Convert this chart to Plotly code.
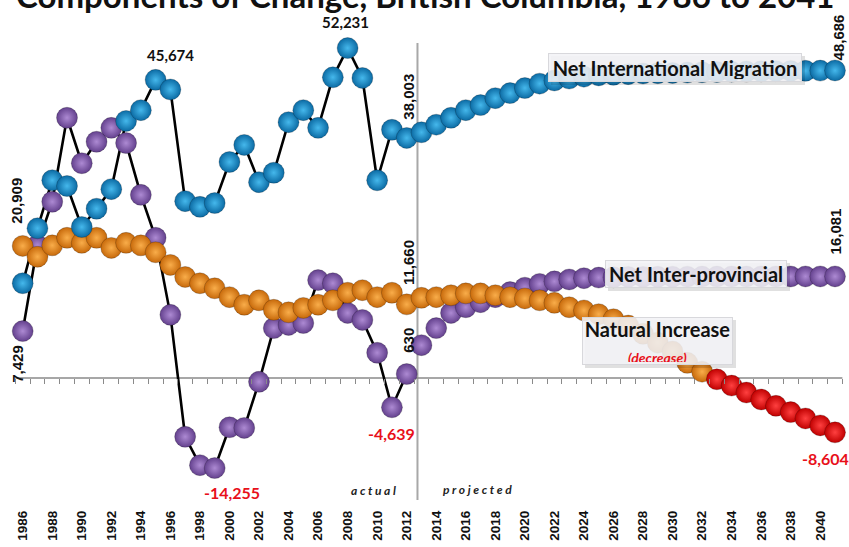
import plotly.graph_objects as go

# ---- data -------------------------------------------------------------
years = list(range(1986, 2042))
last_actual_year = 2012

net_international = [
    15000, 23700, 31300, 30400, 23900, 26800, 29900, 40700, 42400, 47200,
    45674, 28000, 27100, 27700, 34200, 36900, 31000, 32500, 40500, 42400,
    39600, 47600, 52231, 47500, 31300, 39300, 38003,
    38900, 40100, 41200, 42400, 43200, 44300, 45100, 45900, 46600, 47100,
    47400, 47700, 47900, 48000, 48100, 48200, 48250, 48300, 48350, 48400,
    48450, 48500, 48520, 48550, 48580, 48610, 48640, 48660, 48686,
]
net_interprovincial = [
    7429, 21000, 27900, 41200, 34000, 37400, 39600, 37200, 29000, 22200,
    10000, -9300, -13800, -14255, -7800, -7900, -600, 7900, 8400, 8700,
    15500, 15000, 10300, 9200, 4000, -4639, 630,
    5200, 7900, 10300, 11200, 12000, 12800, 13600, 14300, 14900, 15300,
    15600, 15800, 15900, 15950, 16000, 16000, 16020, 16030, 16040, 16050,
    16050, 16060, 16060, 16070, 16070, 16075, 16078, 16080, 16081,
]
natural_increase = [
    20909, 19200, 21000, 22200, 21400, 22200, 20600, 21400, 21000, 19900,
    17900, 16000, 15000, 14200, 12800, 11600, 12300, 10800, 10400, 11100,
    11600, 12300, 13500, 13900, 12800, 13500, 11660,
    12700, 12800, 13100, 13400, 13400, 13100, 12800, 12600, 12300, 11900,
    11200, 10700, 10100, 9300, 8300, 7000, 5600, 4200, 2400, 1000,
    -200, -1200, -2300, -3400, -4400, -5400, -6400, -7500, -8604,
]
tick_years = list(range(1986, 2041, 2))
tick_labels = [f"<b>{y}</b>" for y in tick_years]

# ---- geometry ---------------------------------------------------------
W, H = 849, 547
MB = 40                       # bottom margin for the year labels
PH = H - MB                   # plot-area height in px
X_RANGE = [1984.463, 2041.948]
Y_RANGE = [-20420, 59840]


def py(px_from_top):
    """Paper y for a pixel row measured from the top of the page."""
    return 1 - px_from_top / PH


def px(px_from_left):
    return px_from_left / W


n_act = years.index(last_actual_year) + 1
act_years = years[:n_act]

BLUE, BLUE_HI = "#0b6aa3", "#45b8ec"
PURPLE, PURPLE_HI = "#63408d", "#ad8ad3"
ORANGE, ORANGE_HI = "#c7690a", "#f9ad4a"
RED, RED_HI = "#bf0000", "#ff4040"

fig = go.Figure()

# black connecting lines for the recorded years
for series in (net_interprovincial, net_international, natural_increase):
    fig.add_trace(go.Scatter(
        x=act_years, y=series[:n_act], mode="lines",
        line=dict(color="black", width=2.6), hoverinfo="skip", showlegend=False))


def balls(series, col, hi, name, neg=None):
    if neg is None:
        colors, his = col, hi
    else:
        colors = [col if v >= 0 else neg[0] for v in series]
        his = [hi if v >= 0 else neg[1] for v in series]
    fig.add_trace(go.Scatter(
        x=years, y=series, mode="markers", name=name, showlegend=False,
        marker=dict(size=21, color=colors,
                    gradient=dict(type="radial", color=his),
                    line=dict(width=0.6, color="rgba(0,0,0,0.35)"))))


balls(net_interprovincial, PURPLE, PURPLE_HI, "Net Inter-provincial")
balls(natural_increase, ORANGE, ORANGE_HI, "Natural Increase", neg=(RED, RED_HI))
balls(net_international, BLUE, BLUE_HI, "Net International Migration")

# helper trace so the tick-only axis on the zero line is drawn
fig.add_trace(go.Scatter(x=[None], y=[None], xaxis="x2", showlegend=False))

# ---- annotations ------------------------------------------------------
ann = []
NUM_FONT = dict(family="Lato, Carlito, sans-serif", size=15, color="#111")
ROT_FONT = dict(family="Liberation Sans, Arial, sans-serif", size=15, color="#111")
RED_FONT = dict(family="Lato, Carlito, sans-serif", size=16, color="#e8101a")


def label(series, year, dx, dy, font, angle=0):
    v = series[years.index(year)]
    ann.append(dict(x=year, y=v, xref="x", yref="y", text=f"<b>{v:,}</b>",
                    showarrow=False, xshift=dx, yshift=dy, textangle=angle,
                    xanchor="center", yanchor="middle", font=font))


label(net_international, 1996, 0, 34, NUM_FONT)
label(net_international, 2008, -2, 26, NUM_FONT)
label(net_international, 2012, 2, 41, ROT_FONT, -90)
label(net_international, 2041, 3, 33, ROT_FONT, -90)
label(natural_increase, 1986, -6, 45, ROT_FONT, -90)
label(net_interprovincial, 1986, -6, -33, ROT_FONT, -90)
label(natural_increase, 2012, 2, 42, ROT_FONT, -90)
label(net_interprovincial, 2012, 1, 34, ROT_FONT, -90)
label(net_interprovincial, 2011, 0, -26, RED_FONT)
label(net_interprovincial, 1999, 17, -24, RED_FONT)
label(natural_increase, 2041, -10, -26, RED_FONT)
label(net_interprovincial, 2041, 0, 45, ROT_FONT, -90)

# title (runs off the top edge of the page)
ann.append(dict(x=0.5, y=1, xref="paper", yref="paper", xanchor="center",
                yanchor="middle", yshift=5, showarrow=False,
                text="<b>Components of Change, British Columbia, 1986 to 2041</b>",
                font=dict(family="Lato, Carlito, sans-serif", size=33, color="#111")))

# actual / projected tags
TAG_FONT = dict(family="Lato, sans-serif", size=12, color="#222")
ann.append(dict(x=px(373), y=py(490), xref="paper", yref="paper", showarrow=False,
                xanchor="center", yanchor="middle",
                text="<b><i>a c t u a l</i></b>", font=TAG_FONT))
ann.append(dict(x=px(477), y=py(489), xref="paper", yref="paper", showarrow=False,
                xanchor="center", yanchor="middle",
                text="<b><i>p r o j e c t e d</i></b>", font=TAG_FONT))

# series name boxes
BOX_FONT = dict(family="Lato, Carlito, sans-serif", size=20, color="#111")
boxes = [
    ("<b>Net International Migration</b>", 548, 802, 53, 82),
    ("<b>Net Inter-provincial</b>", 605, 787, 260, 288),
    ("<b>Natural Increase</b><br><span style='font-size:14px;color:#e8101a'>"
     "<b><i>(decrease)</i></b></span>", 582, 733, 317, 365),
]
shapes = []
for text, x0, x1, y0, y1 in boxes:
    shapes.append(dict(type="rect", xref="paper", yref="paper",
                       x0=px(x0 + 3), x1=px(x1 + 3), y0=py(y1 + 3), y1=py(y0 + 3),
                       fillcolor="rgba(0,0,0,0.12)", line=dict(width=0), layer="above"))
    ann.append(dict(x=px((x0 + x1) / 2), y=py((y0 + y1) / 2), xref="paper",
                    yref="paper", showarrow=False, text=text, font=BOX_FONT,
                    xanchor="center", yanchor="middle",
                    width=x1 - x0 - 6, height=y1 - y0 - 6, borderpad=2,
                    bgcolor="rgba(242,242,246,0.88)", bordercolor="#d8d8dc",
                    borderwidth=1))

# zero line and actual/projected divider
shapes.append(dict(type="line", xref="x", yref="y", x0=1985.5, x1=2041.5, y0=0, y1=0,
                   line=dict(color="#8a8a8a", width=1.5), layer="below"))
shapes.append(dict(type="line", xref="x", yref="paper", x0=2012.73, x1=2012.73,
                   y0=py(500), y1=py(43), line=dict(color="#a8a8a8", width=2),
                   layer="below"))

fig.update_layout(
    width=W, height=H,
    margin=dict(l=0, r=0, t=0, b=MB),
    paper_bgcolor="white", plot_bgcolor="white",
    showlegend=False,
    xaxis=dict(range=X_RANGE, tickmode="array", tickvals=tick_years,
               ticktext=tick_labels, tickangle=-90, ticks="", showgrid=False,
               zeroline=False, showline=False,
               tickfont=dict(family="Liberation Sans, Arial, sans-serif",
                             size=13.5, color="#111"),
               ),
    xaxis2=dict(range=X_RANGE, overlaying="x", anchor="free",
                position=(PH - 378) / PH, side="bottom", tickmode="array",
                tickvals=[y - 0.5 for y in years] + [years[-1] + 0.5],
                ticks="outside", ticklen=5, tickcolor="#8a8a8a", tickwidth=1,
                showticklabels=False, showgrid=False, zeroline=False,
                showline=False),
    yaxis=dict(range=Y_RANGE, visible=False, showgrid=False, zeroline=False),
    annotations=ann,
    shapes=shapes,
)

fig.write_html("out.html")
